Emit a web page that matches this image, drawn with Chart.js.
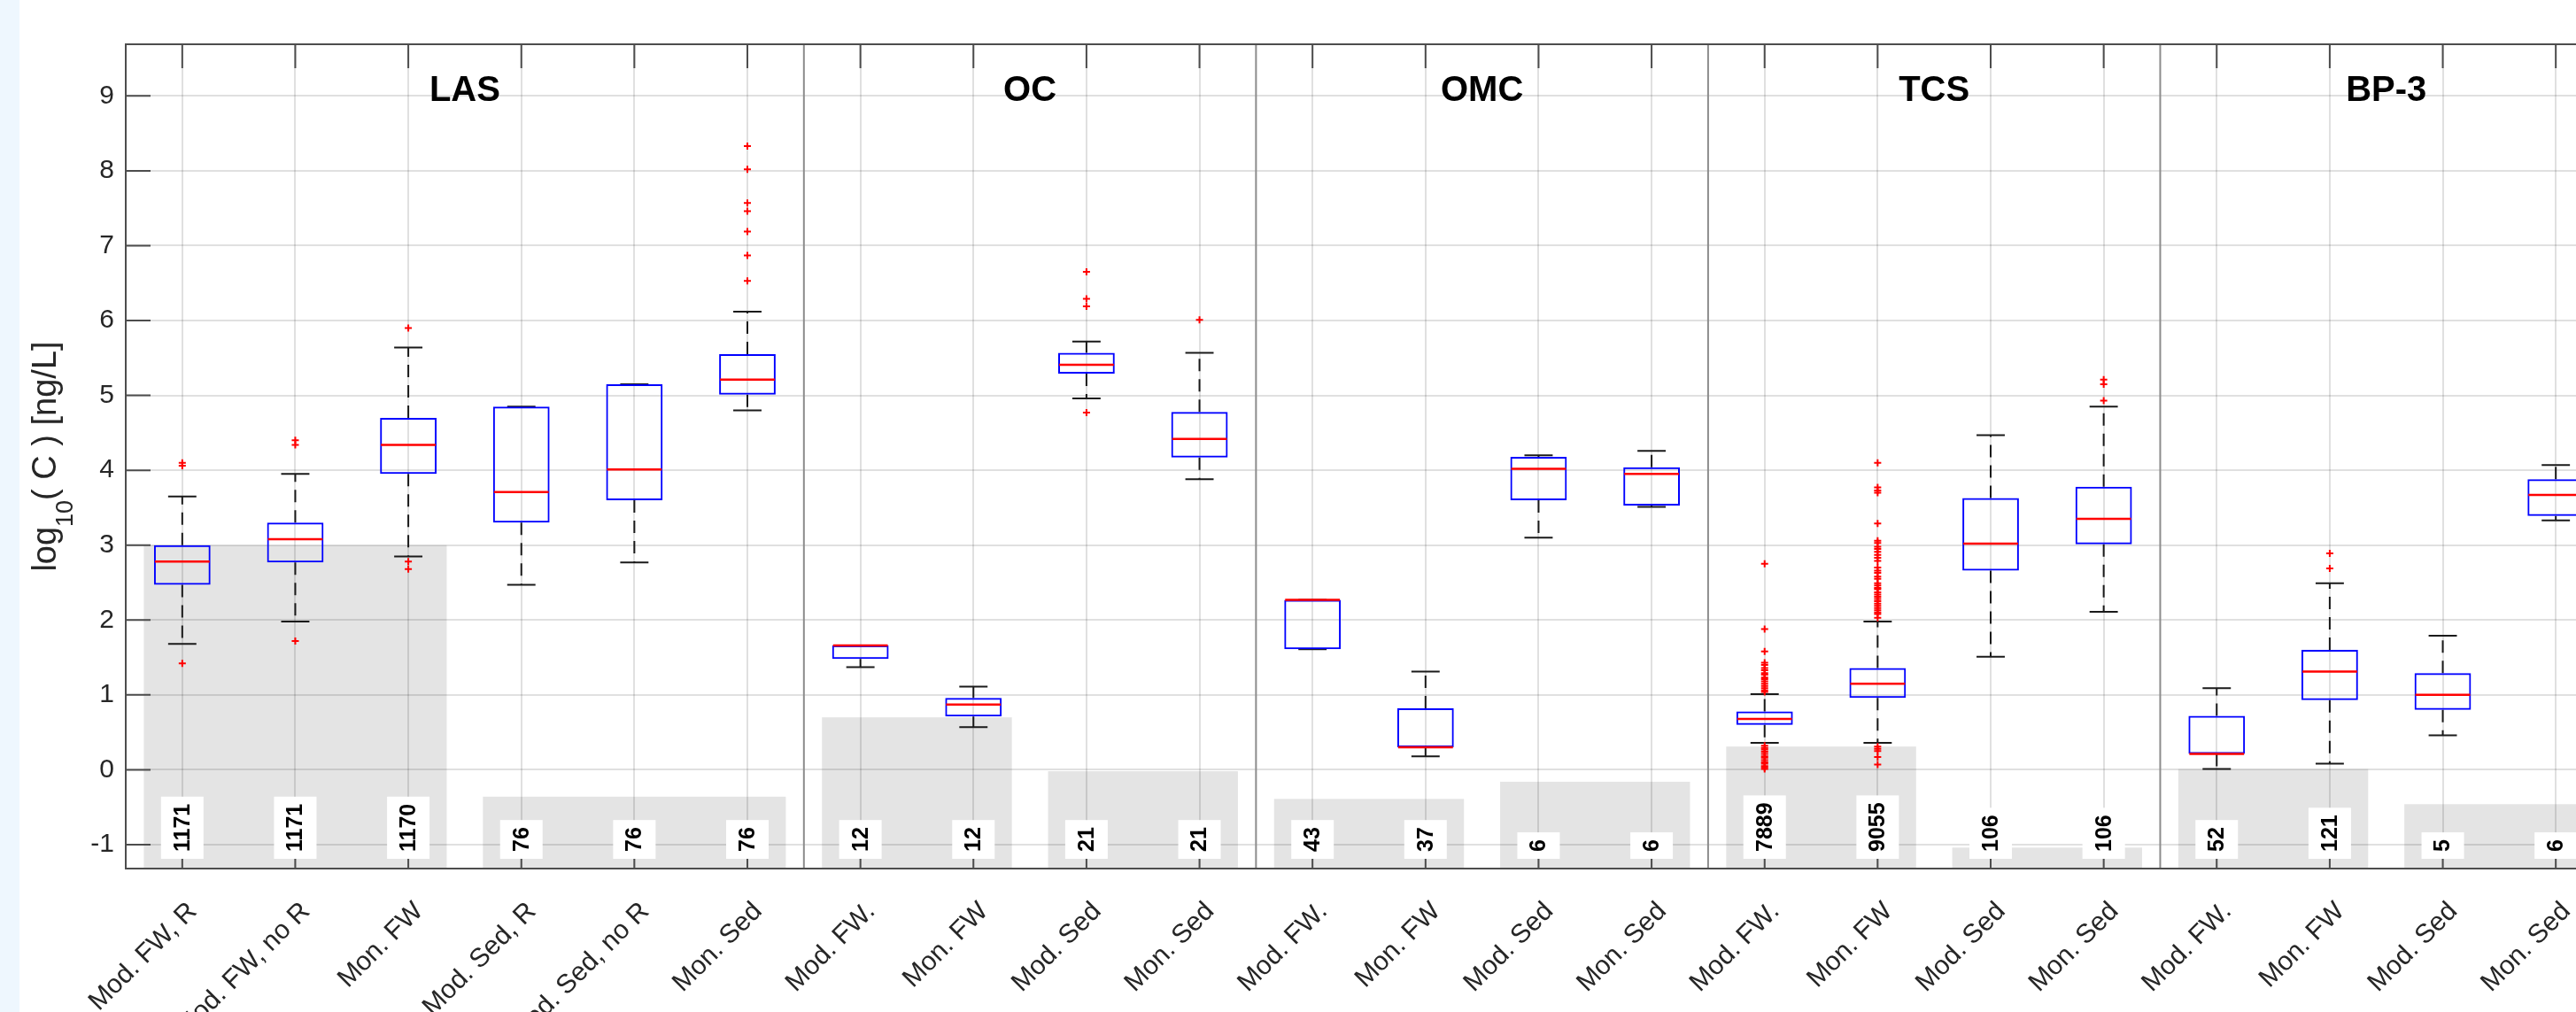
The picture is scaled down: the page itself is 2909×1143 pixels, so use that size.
<!DOCTYPE html>
<html>
<head>
<meta charset="utf-8">
<title>log10 concentrations: modelled vs monitored</title>
<script src="https://cdn.jsdelivr.net/npm/chart.js@4.4.1/dist/chart.umd.min.js"></script>
<style>
  html, body { margin: 0; padding: 0; width: 2909px; height: 1143px; overflow: hidden; }
  body { background: linear-gradient(to right, #eef7fe 0, #eef7fe 22px, #ffffff 22px); }
  #wrap { position: absolute; left: 0; top: 0; }
</style>
</head>
<body>
<div id="wrap"><canvas id="chart" width="2960" height="1143"></canvas></div>
<script>
// Substance panels and the category index range each one covers
const groupNames  = ['LAS', 'OC', 'OMC', 'TCS', 'BP-3'];
const groupStarts = [0, 6, 10, 14, 18];
const groupEnds   = [5, 9, 13, 17, 21];

// Box categories, left to right
const categories = [
  'Mod. FW, R', 'Mod. FW, no R', 'Mon. FW', 'Mod. Sed, R', 'Mod. Sed, no R', 'Mon. Sed',
  'Mod. FW.', 'Mon. FW', 'Mod. Sed', 'Mon. Sed',
  'Mod. FW.', 'Mon. FW', 'Mod. Sed', 'Mon. Sed',
  'Mod. FW.', 'Mon. FW', 'Mod. Sed', 'Mon. Sed',
  'Mod. FW.', 'Mon. FW', 'Mod. Sed', 'Mon. Sed'
];

// Number of values behind each box
const sampleCounts = [1171, 1171, 1170, 76, 76, 76, 12, 12, 21, 21, 43, 37, 6, 6, 7889, 9055, 106, 106, 52, 121, 5, 6];

// Box statistics, log10(C) in ng/L
const whiskerLow  = [1.68, 1.98, 2.85, 2.47, 2.77, 4.80, 1.37, 0.57, 4.96, 3.88, 1.61, 0.18, 3.10, 3.51, 0.36, 0.36, 1.51, 2.11, 0.01, 0.08, 0.46, 3.33];
const quartile1   = [2.47, 2.77, 3.95, 3.30, 3.60, 5.01, 1.48, 0.71, 5.29, 4.17, 1.61, 0.30, 3.60, 3.53, 0.60, 0.96, 2.66, 3.01, 0.21, 0.93, 0.80, 3.39];
const medians     = [2.78, 3.08, 4.34, 3.71, 4.01, 5.21, 1.66, 0.87, 5.41, 4.42, 2.27, 0.30, 4.02, 3.95, 0.68, 1.15, 3.02, 3.35, 0.21, 1.31, 1.00, 3.67];
const quartile3   = [3.00, 3.30, 4.70, 4.85, 5.15, 5.55, 1.66, 0.96, 5.57, 4.78, 2.27, 0.82, 4.18, 4.04, 0.78, 1.36, 3.63, 3.78, 0.72, 1.60, 1.29, 3.88];
const whiskerHigh = [3.65, 3.95, 5.64, 4.85, 5.15, 6.12, 1.66, 1.11, 5.72, 5.57, 2.27, 1.31, 4.20, 4.26, 1.01, 1.98, 4.47, 4.85, 1.09, 2.49, 1.79, 4.07];

// Outliers per category
const outliers = [
  [4.10, 4.06, 1.42],
  [4.40, 4.34, 1.72],
  [5.90, 2.78, 2.68],
  [],
  [],
  [8.33, 8.02, 7.57, 7.46, 7.19, 6.87, 6.53],
  [],
  [],
  [6.65, 6.29, 6.19, 4.77],
  [6.01],
  [],
  [],
  [],
  [],
  [2.75, 1.88, 1.58, 1.43, 1.40, 1.36, 1.33, 1.29, 1.27, 1.23, 1.21, 1.18, 1.15, 1.12, 1.09, 1.06, 1.04,
   0.32, 0.29, 0.27, 0.24, 0.21, 0.18, 0.16, 0.13, 0.10, 0.08, 0.05, 0.03, 0.01],
  [4.10, 3.77, 3.73, 3.70, 3.29, 3.06, 3.03, 2.98, 2.95, 2.91, 2.87, 2.83, 2.79, 2.70, 2.66, 2.63, 2.58, 2.55,
   2.49, 2.46, 2.43, 2.41, 2.37, 2.34, 2.31, 2.28, 2.25, 2.22, 2.19, 2.16, 2.13, 2.10, 2.08, 2.03,
   0.31, 0.28, 0.25, 0.17, 0.07],
  [],
  [5.21, 5.15, 4.93],
  [],
  [2.89, 2.69],
  [],
  []
];

// Shaded limit bands: first and last category, upper level
const limitFrom  = [0, 3, 6, 8, 10, 12, 14, 16, 18, 20];
const limitTo    = [2, 5, 7, 9, 11, 13, 15, 17, 19, 21];
const limitLevel = [3.00, -0.36, 0.70, -0.02, -0.39, -0.16, 0.31, -1.04, 0.01, -0.46];

// Value axis
const yTicks = [-1, 0, 1, 2, 3, 4, 5, 6, 7, 8, 9];
const yRange = [-1.32, 9.69];
const countLabelBase = -1.19;

const FONT = '"Liberation Sans", Arial, Helvetica, sans-serif';
const AXIS_COLOR = '#4d4d4d';
const TEXT_COLOR = '#262626';

const boxData = categories.map((_, i) => ({ x: i, y: [quartile1[i], quartile3[i]] }));
const outlierData = [];
outliers.forEach((vals, i) => vals.forEach(v => outlierData.push({ x: i, y: v })));

const panelPlugin = {
  id: 'panels',
  beforeDraw(chart) {
    // shaded limit bands sit under the grid
    const { ctx, chartArea: a, scales: { x, y } } = chart;
    const slot = x.getPixelForValue(1) - x.getPixelForValue(0);
    ctx.save();
    ctx.fillStyle = '#e4e4e4';
    limitLevel.forEach((lv, k) => {
      const left = x.getPixelForValue(limitFrom[k]) - 0.34 * slot;
      const right = x.getPixelForValue(limitTo[k]) + 0.34 * slot;
      const top = y.getPixelForValue(lv);
      ctx.fillRect(left, top, right - left, a.bottom - top);
    });
    ctx.restore();
  },
  beforeDatasetsDraw(chart) {
    const { ctx, chartArea: a, scales: { x, y } } = chart;
    const slot = x.getPixelForValue(1) - x.getPixelForValue(0);
    ctx.save();
    // separators between substances
    ctx.strokeStyle = '#8c8c8c';
    ctx.lineWidth = 2;
    for (let g = 1; g < groupStarts.length; g++) {
      const px = (x.getPixelForValue(groupStarts[g] - 1) + x.getPixelForValue(groupStarts[g])) / 2;
      ctx.beginPath(); ctx.moveTo(px, a.top); ctx.lineTo(px, a.bottom); ctx.stroke();
    }
    // whiskers (dashed) and caps (solid)
    ctx.strokeStyle = '#1a1a1a';
    ctx.lineWidth = 2;
    const capHalf = 0.125 * slot;
    categories.forEach((_, i) => {
      const px = x.getPixelForValue(i);
      const yHi = y.getPixelForValue(whiskerHigh[i]);
      const yQ3 = y.getPixelForValue(quartile3[i]);
      const yQ1 = y.getPixelForValue(quartile1[i]);
      const yLo = y.getPixelForValue(whiskerLow[i]);
      ctx.setLineDash([14, 9]);
      ctx.beginPath();
      ctx.moveTo(px, yQ3); ctx.lineTo(px, yHi);
      ctx.moveTo(px, yQ1); ctx.lineTo(px, yLo);
      ctx.stroke();
      ctx.setLineDash([]);
      ctx.beginPath();
      ctx.moveTo(px - capHalf, yHi); ctx.lineTo(px + capHalf, yHi);
      ctx.moveTo(px - capHalf, yLo); ctx.lineTo(px + capHalf, yLo);
      ctx.stroke();
    });
    ctx.restore();
  },
  afterDatasetsDraw(chart) {
    // median lines on top of the boxes
    const { ctx, scales: { x, y } } = chart;
    const slot = x.getPixelForValue(1) - x.getPixelForValue(0);
    const half = 0.25 * slot;
    ctx.save();
    ctx.strokeStyle = '#ff0000';
    ctx.lineWidth = 2.5;
    medians.forEach((m, i) => {
      const px = x.getPixelForValue(i);
      const py = y.getPixelForValue(m);
      ctx.beginPath(); ctx.moveTo(px - half + 1, py); ctx.lineTo(px + half - 1, py); ctx.stroke();
    });
    ctx.restore();
  },
  afterDraw(chart) {
    const { ctx, chartArea: a, scales: { x, y } } = chart;
    ctx.save();
    // axes box with inward tick marks
    ctx.strokeStyle = AXIS_COLOR;
    ctx.lineWidth = 2;
    ctx.strokeRect(a.left, a.top, a.right - a.left, a.bottom - a.top);
    ctx.beginPath();
    categories.forEach((_, i) => {
      const px = x.getPixelForValue(i);
      ctx.moveTo(px, a.top); ctx.lineTo(px, a.top + 27);
      ctx.moveTo(px, a.bottom); ctx.lineTo(px, a.bottom - 27);
    });
    yTicks.forEach(v => {
      const py = y.getPixelForValue(v);
      ctx.moveTo(a.left, py); ctx.lineTo(a.left + 28, py);
      ctx.moveTo(a.right, py); ctx.lineTo(a.right - 28, py);
    });
    ctx.stroke();

    // sample counts in white boxes
    const base = y.getPixelForValue(countLabelBase);
    ctx.font = 'bold 25px ' + FONT;
    sampleCounts.forEach((n, i) => {
      const txt = String(n);
      const w = ctx.measureText(txt).width;
      const h = w + 16;
      const px = x.getPixelForValue(i);
      ctx.fillStyle = '#ffffff';
      ctx.fillRect(px - 24, base - h, 48, h);
      ctx.save();
      ctx.translate(px, base - h / 2);
      ctx.rotate(-Math.PI / 2);
      ctx.fillStyle = '#000000';
      ctx.textAlign = 'center';
      ctx.textBaseline = 'middle';
      ctx.fillText(txt, 0, 1);
      ctx.restore();
    });

    // substance titles
    ctx.font = 'bold 40px ' + FONT;
    ctx.fillStyle = '#000000';
    ctx.textAlign = 'center';
    ctx.textBaseline = 'alphabetic';
    groupNames.forEach((name, g) => {
      const cx = (x.getPixelForValue(groupStarts[g]) + x.getPixelForValue(groupEnds[g])) / 2;
      ctx.fillText(name, cx, a.top + 64);
    });

    // y-axis title with subscript
    ctx.translate(50, (a.top + a.bottom) / 2);
    ctx.rotate(-Math.PI / 2);
    ctx.fillStyle = TEXT_COLOR;
    ctx.textAlign = 'left';
    const mainFont = '38px ' + FONT, subFont = '27px ' + FONT;
    ctx.font = mainFont;
    const w1 = ctx.measureText('log').width;
    const w3 = ctx.measureText('( C ) [ng/L]').width;
    ctx.font = subFont;
    const w2 = ctx.measureText('10').width;
    let u = -(w1 + w2 + w3) / 2;
    ctx.font = mainFont; ctx.fillText('log', u, 13); u += w1;
    ctx.font = subFont; ctx.fillText('10', u, 32); u += w2;
    ctx.font = mainFont; ctx.fillText('( C ) [ng/L]', u, 13);
    ctx.restore();
  }
};

new Chart(document.getElementById('chart'), {
  type: 'bar',
  data: {
    datasets: [
      {
        type: 'bar',
        data: boxData,
        backgroundColor: 'rgba(0,0,0,0)',
        borderColor: '#0000ff',
        borderWidth: 2,
        borderSkipped: false,
        barPercentage: 0.5,
        categoryPercentage: 1.0
      },
      {
        type: 'scatter',
        data: outlierData,
        pointStyle: 'cross',
        pointRadius: 4,
        pointBorderColor: '#ff0000',
        pointBorderWidth: 2,
        borderColor: '#ff0000',
        showLine: false
      }
    ]
  },
  options: {
    responsive: false,
    animation: false,
    devicePixelRatio: 1,
    layout: { padding: { top: 50, right: 10, left: 0, bottom: 0 } },
    plugins: { legend: { display: false }, tooltip: { enabled: false } },
    scales: {
      x: {
        type: 'linear',
        min: -0.5,
        max: 21.5,
        offset: false,
        afterBuildTicks: s => { s.ticks = categories.map((_, i) => ({ value: i })); },
        afterFit: s => { s.height = 162; },
        ticks: {
          autoSkip: false,
          minRotation: 45,
          maxRotation: 45,
          padding: 31,
          labelOffset: 12,
          color: TEXT_COLOR,
          font: { family: FONT, size: 30 },
          callback: v => categories[v]
        },
        grid: { offset: false, color: 'rgba(0,0,0,0.12)', lineWidth: 2, drawTicks: false },
        border: { display: false }
      },
      y: {
        type: 'linear',
        min: yRange[0],
        max: yRange[1],
        afterBuildTicks: s => { s.ticks = yTicks.map(v => ({ value: v })); },
        afterFit: s => { s.width = 142; },
        ticks: {
          padding: 13,
          color: TEXT_COLOR,
          font: { family: FONT, size: 30 },
          callback: v => String(v)
        },
        grid: { color: 'rgba(0,0,0,0.12)', lineWidth: 2, drawTicks: false },
        border: { display: false }
      }
    }
  },
  plugins: [panelPlugin]
});
</script>
</body>
</html>
